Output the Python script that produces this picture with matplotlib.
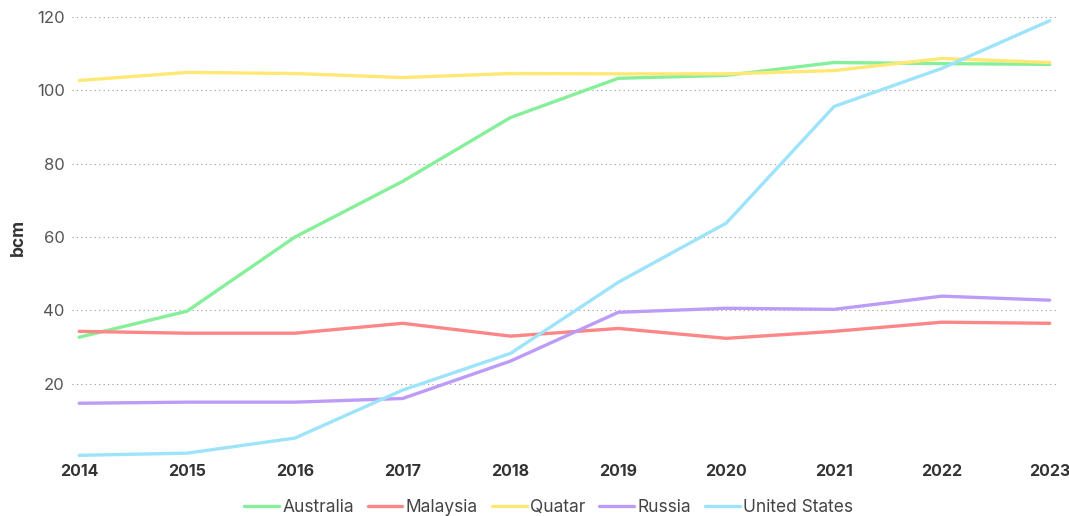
import matplotlib.pyplot as plt

years = [2014, 2015, 2016, 2017, 2018, 2019, 2020, 2021, 2022, 2023]
australia = [32.7, 39.8, 60.0, 75.2, 92.6, 103.3, 104.1, 107.6, 107.3, 107.1]
malaysia = [34.3, 33.8, 33.8, 36.5, 33.0, 35.1, 32.4, 34.3, 36.8, 36.5]
quatar = [102.7, 104.9, 104.6, 103.5, 104.6, 104.5, 104.5, 105.4, 108.7, 107.6]
russia = [14.7, 15.0, 15.0, 16.0, 26.2, 39.5, 40.6, 40.3, 43.9, 42.8]
united_states = [0.5, 1.1, 5.2, 18.3, 28.3, 47.7, 63.8, 95.6, 106.0, 119.0]

names = ["Australia", "Malaysia", "Quatar", "Russia", "United States"]
colors = ["#86EF9A", "#FC8787", "#FFE873", "#BD9CF8", "#9DE4FB"]

plt.rcParams['font.family'] = ['Inter', 'DejaVu Sans']

fig = plt.figure(figsize=(10.69, 5.16), dpi=100)
ax = fig.add_axes([0.067, 0.114, 0.922, 0.853])

for name, vals, c in zip(names, [australia, malaysia, quatar, russia, united_states], colors):
    ax.plot(years, vals, color=c, lw=2.4, label=name, solid_capstyle='round')

ax.set_xlim(2013.93, 2023.07)
ax.set_ylim(0, 120)
ax.set_yticks([20, 40, 60, 80, 100, 120])
ax.set_xticks(years)
ax.set_xticklabels([str(y) for y in years], fontweight='bold', color='#333333', fontsize=11.5)
ax.tick_params(axis='y', labelsize=12, labelcolor='#555555', length=0, pad=5)
ax.tick_params(axis='x', length=0, pad=5)
ax.grid(axis='y', linestyle=(0, (1, 3)), color='#999999', lw=0.8)
ax.set_axisbelow(True)
for s in ax.spines.values():
    s.set_visible(False)
ax.set_ylabel("bcm", fontweight='bold', fontsize=12.5, color='#333333', labelpad=7)

ax.legend(loc='upper center', bbox_to_anchor=(0.484, -0.06), ncol=5, frameon=False,
          fontsize=12.5, handlelength=2.0, handletextpad=0.2, columnspacing=0.8,
          labelcolor='#444444')

fig.savefig("out.png", dpi=100)
